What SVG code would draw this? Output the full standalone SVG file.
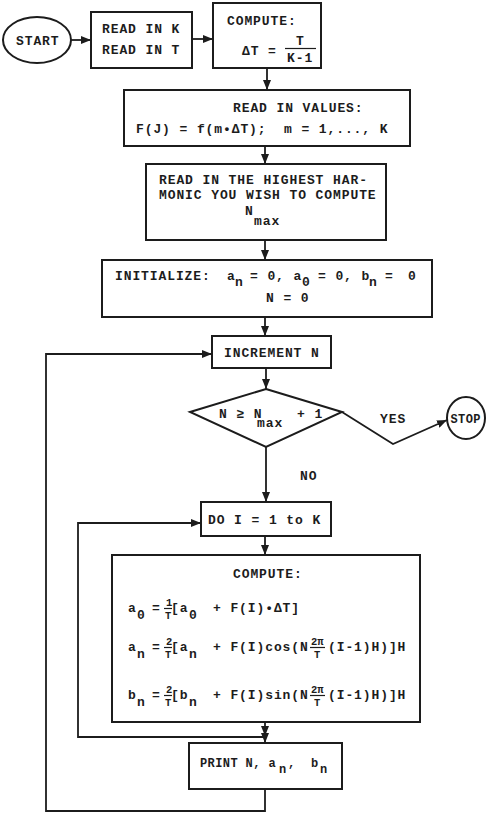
<svg xmlns="http://www.w3.org/2000/svg" width="501" height="817" viewBox="0 0 501 817">
<defs>
<style>
.t{font-family:"Liberation Mono","Courier New",monospace;font-size:13px;letter-spacing:0.9px;font-weight:bold;fill:#1c1c1c}
.s{font-size:12px;letter-spacing:0.4px}
.fr{font-size:10.5px;letter-spacing:0}
.b{fill:none;stroke:#1c1c1c;stroke-width:2}
.c{fill:none;stroke:#1c1c1c;stroke-width:1.8}
.fl{stroke:#1c1c1c;stroke-width:1.2}
</style>
<marker id="ah" markerWidth="10" markerHeight="8" refX="10" refY="4" orient="auto" markerUnits="userSpaceOnUse"><path d="M0,0 L10,4 L0,8 z" fill="#1c1c1c"/></marker>
</defs>
<rect width="501" height="817" fill="#fff"/>

<g id="start">
<ellipse class="b" cx="37" cy="40" rx="34" ry="23"/>
<text class="t" x="16" y="45">START</text>
</g>

<g id="read-k-t">
<rect class="b" x="91" y="12" width="101" height="56"/>
<text class="t" x="102" y="33">READ IN K</text>
<text class="t" x="102" y="54">READ IN T</text>
</g>

<g id="compute-dt">
<rect class="b" x="213" y="3" width="108" height="65"/>
<text class="t" x="227" y="25">COMPUTE:</text>
<text class="t" x="242" y="55">ΔT =</text>
<text class="t" x="296" y="45">T</text>
<line class="fl" x1="285" y1="48.5" x2="316" y2="48.5"/>
<text class="t" x="287" y="62">K-1</text>
</g>

<g id="read-values">
<rect class="b" x="124" y="90" width="286" height="56"/>
<text class="t" x="233" y="112">READ IN VALUES:</text>
<text class="t" x="136" y="133">F(J) = f(m•ΔT);</text>
<text class="t" x="284" y="133">m = 1,..., K</text>
</g>

<g id="read-nmax">
<rect class="b" x="146" y="164" width="240" height="76"/>
<text class="t" x="159" y="184">READ IN THE HIGHEST HAR-</text>
<text class="t" x="159" y="199">MONIC YOU WISH TO COMPUTE</text>
<text class="t" x="245" y="215">N</text>
<text class="t" x="254" y="225">max</text>
</g>

<g id="initialize">
<rect class="b" x="102" y="260" width="330" height="57"/>
<text class="t" x="115" y="280">INITIALIZE:</text>
<text class="t" x="227" y="280">a</text>
<text class="t" x="235" y="286">n</text>
<text class="t" x="250" y="280">= 0, a</text>
<text class="t" x="302" y="286">0</text>
<text class="t" x="318" y="280">= 0, b</text>
<text class="t" x="369" y="286">n</text>
<text class="t" x="385" y="280">=</text>
<text class="t" x="408" y="280">0</text>
<text class="t" x="266" y="302">N = 0</text>
</g>

<g id="increment">
<rect class="b" x="212" y="336" width="119" height="32"/>
<text class="t" x="224" y="357">INCREMENT N</text>
</g>

<g id="decision">
<polygon class="b" points="266,389 342,412 266,447 190,412"/>
<text class="t" x="219" y="418">N ≥ N</text>
<text class="t" x="257" y="427">max</text>
<text class="t" x="297" y="418">+ 1</text>
</g>

<g id="stop">
<ellipse class="b" cx="466" cy="418" rx="19" ry="21"/>
<text class="t s" x="450.5" y="423">STOP</text>
</g>

<g id="do-loop">
<rect class="b" x="201" y="502" width="130" height="34"/>
<text class="t" x="208" y="524">DO I = 1 to K</text>
</g>

<g id="compute-coeffs">
<rect class="b" x="112" y="555" width="308" height="167"/>
<text class="t" x="233" y="578">COMPUTE:</text>
<text class="t" x="128" y="612">a</text>
<text class="t" x="137" y="619">0</text>
<text class="t" x="152" y="612">=</text>
<text class="t fr" x="166" y="606">1</text>
<line class="fl" x1="164" y1="608.5" x2="172" y2="608.5"/>
<text class="t fr" x="165" y="619">T</text>
<text class="t" x="171" y="612">[a</text>
<text class="t" x="189" y="619">0</text>
<text class="t" x="213" y="612">+ F(I)•ΔT]</text>
<text class="t" x="128" y="651">a</text>
<text class="t" x="137" y="658">n</text>
<text class="t" x="152" y="651">=</text>
<text class="t fr" x="166" y="645">2</text>
<line class="fl" x1="164" y1="647.5" x2="172" y2="647.5"/>
<text class="t fr" x="165" y="658">T</text>
<text class="t" x="171" y="651">[a</text>
<text class="t" x="189" y="658">n</text>
<text class="t" x="213" y="651">+ F(I)cos(N</text>
<text class="t fr" x="311" y="645">2π</text>
<line class="fl" x1="310" y1="647.5" x2="325" y2="647.5"/>
<text class="t fr" x="314" y="658">T</text>
<text class="t" x="328" y="651">(I-1)H)]H</text>
<text class="t" x="128" y="699">b</text>
<text class="t" x="137" y="706">n</text>
<text class="t" x="152" y="699">=</text>
<text class="t fr" x="166" y="693">2</text>
<line class="fl" x1="164" y1="695.5" x2="172" y2="695.5"/>
<text class="t fr" x="165" y="706">T</text>
<text class="t" x="171" y="699">[b</text>
<text class="t" x="189" y="706">n</text>
<text class="t" x="213" y="699">+ F(I)sin(N</text>
<text class="t fr" x="311" y="693">2π</text>
<line class="fl" x1="310" y1="695.5" x2="325" y2="695.5"/>
<text class="t fr" x="314" y="706">T</text>
<text class="t" x="328" y="699">(I-1)H)]H</text>
</g>

<g id="print">
<rect class="b" x="189" y="743" width="153" height="46"/>
<text class="t s" x="200" y="767">PRINT N, a</text>
<text class="t s" x="279" y="773">n</text>
<text class="t s" x="288" y="767">,</text>
<text class="t s" x="311" y="767">b</text>
<text class="t s" x="320" y="773">n</text>
</g>

<g id="connectors">
<line class="c" x1="71" y1="40" x2="91" y2="40" marker-end="url(#ah)"/>
<line class="c" x1="192" y1="39" x2="213" y2="39" marker-end="url(#ah)"/>
<line class="c" x1="267" y1="68" x2="267" y2="90" marker-end="url(#ah)"/>
<line class="c" x1="265" y1="146" x2="265" y2="164" marker-end="url(#ah)"/>
<line class="c" x1="265" y1="240" x2="265" y2="260" marker-end="url(#ah)"/>
<line class="c" x1="265" y1="317" x2="265" y2="336" marker-end="url(#ah)"/>
<line class="c" x1="266" y1="368" x2="266" y2="389" marker-end="url(#ah)"/>
<line class="c" x1="266" y1="447" x2="266" y2="502" marker-end="url(#ah)"/>
<text class="t" x="300" y="480">NO</text>
<polyline class="c" points="342,412 393,444 447,420" marker-end="url(#ah)"/>
<text class="t" x="380" y="423">YES</text>
<line class="c" x1="265" y1="536" x2="265" y2="555" marker-end="url(#ah)"/>
<line class="c" x1="265" y1="722" x2="265" y2="736" marker-end="url(#ah)"/>
<line class="c" x1="265" y1="737" x2="265" y2="743" marker-end="url(#ah)"/>
<polyline class="c" points="265,737 78,737 78,523 201,523" marker-end="url(#ah)"/>
<polyline class="c" points="265,789 265,811 46,811 46,354 212,354" marker-end="url(#ah)"/>
</g>
</svg>
